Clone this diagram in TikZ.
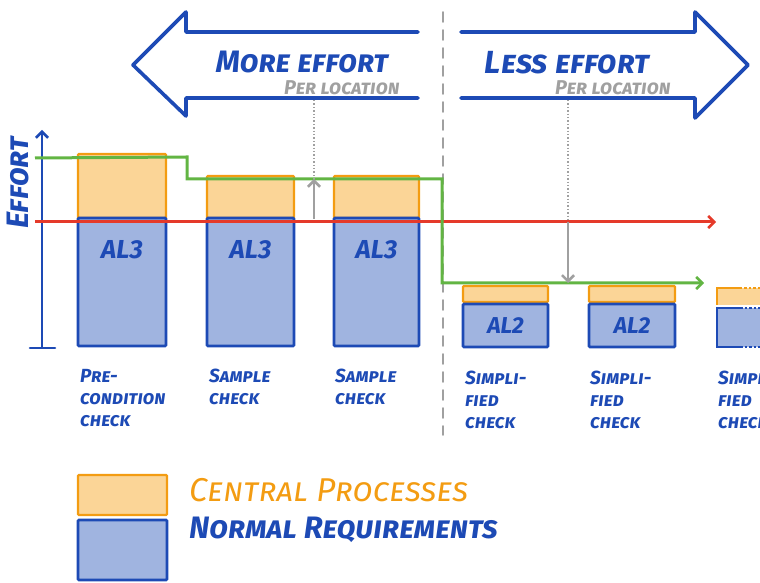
\documentclass[tikz,border=0pt]{standalone}
\usepackage{fontspec}
\setmainfont{Fira Sans}
\usetikzlibrary{arrows.meta,calc,positioning}

\begin{document}
\begin{tikzpicture}[x=1pt,y=1pt, every node/.style={inner sep=0pt},
  reqbox/.style={draw=bl, fill=bf, line width=2.6pt, rounded corners=1pt, anchor=center},
  cpbox/.style={draw=og, fill=of, line width=2.4pt, rounded corners=1pt, anchor=center},
  bigarrow/.style={draw=bl, line width=3.6pt, line join=round, line cap=round},
  barb/.style={-{Straight Barb[length=6pt,width=12pt,line width=2.6pt]}},
  headtext/.style={text=bl, text depth=0pt, font=\bfseries\itshape\scshape\fontsize{31}{33}\selectfont},
  pertext/.style={text=gy, text depth=0pt, font=\bfseries\itshape\scshape\fontsize{20}{22}\selectfont},
  altext/.style={text=bl, font=\bfseries\itshape\fontsize{26}{28}\selectfont},
  steplabel/.style={text=bl, anchor=north west, align=left, font=\bfseries\itshape\scshape\fontsize{19}{22}\selectfont}]
\definecolor{bl}{HTML}{1D4AB5}\definecolor{bf}{HTML}{A0B4E0}
\definecolor{og}{HTML}{F39C12}\definecolor{of}{HTML}{FBD597}
\definecolor{gn}{HTML}{62B543}\definecolor{rd}{HTML}{E53A2A}
\definecolor{gy}{HTML}{A0A0A0}
\useasboundingbox (0,0) rectangle (760,583);
\clip (0,0) rectangle (760,583);
% big direction arrows
\draw[bigarrow] (418,551) -- (186,551) -- (186,571) -- (133,518) -- (186,467) -- (186,485) -- (418,485);
\draw[bigarrow] (461,551) -- (695,551) -- (695,571) -- (748,518) -- (695,465) -- (695,485) -- (461,485);
\draw[draw=gy, line width=1.6pt, dash pattern=on 10pt off 8pt, line cap=round] (443,571) -- (443,148);
\node[headtext] (more) at (302,521) {More effort};
\node[pertext] (perloc1) at (342,495) {Per location};
\node[headtext, font=\bfseries\itshape\scshape\fontsize{32}{34}\selectfont] (less) at (567,521) {Less effort};
\node[pertext] (perloc2) at (613,495) {Per location};
% axis
\coordinate (ax0) at (42,235);
\coordinate (ax1) at (42,453);
\draw[draw=bl, line width=2.6pt, line cap=round] (30,235) -- (55,235);
\draw[draw=bl, line width=2.6pt, barb] (ax0) -- (ax1);
\node[text=bl, rotate=90, font=\bfseries\itshape\scshape\fontsize{31}{33}\selectfont] (eff) at (18,400) {Effort};
% bars
\node[cpbox, minimum width=88pt, minimum height=64pt] (cp1) at (122,397) {};
\node[cpbox, minimum width=87pt, minimum height=42pt] (cp2) at (250.5,386) {};
\node[cpbox, minimum width=85pt, minimum height=42pt] (cp3) at (376.5,386) {};
\node[cpbox, minimum width=85pt, minimum height=16pt] (cp4) at (505.5,289) {};
\node[cpbox, minimum width=86pt, minimum height=16pt] (cp5) at (632,289) {};
\node[reqbox, minimum width=88pt, minimum height=128pt] (al1) at (122,301) {};
\node[reqbox, minimum width=87pt, minimum height=128pt] (al2) at (250.5,301) {};
\node[reqbox, minimum width=85pt, minimum height=128pt] (al3) at (376.5,301) {};
\node[altext, below=24pt of al1.north] (al1txt) {AL3};
\node[altext, below=24pt of al2.north] (al2txt) {AL3};
\node[altext, below=24pt of al3.north] (al3txt) {AL3};
\node[reqbox, minimum width=85pt, minimum height=43pt, altext, font=\bfseries\itshape\fontsize{23}{25}\selectfont] (al4) at (505.5,257.5) {AL2};
\node[reqbox, minimum width=86pt, minimum height=43pt, altext, font=\bfseries\itshape\fontsize{23}{25}\selectfont] (al5) at (632,257.5) {AL2};
% cut-off bar at the right edge
\fill[of] (717,278) rectangle (765,295);
\draw[draw=og, line width=2.4pt] (717,278) -- (717,295) -- (740,295);
\draw[draw=og, line width=2.4pt, dotted] (740,295) -- (762,295);
\fill[bf] (717,236) rectangle (765,275);
\draw[draw=bl, line width=2.6pt] (740,275) -- (717,275) -- (717,236) -- (740,236);
\draw[draw=bl, line width=2.6pt, dotted] (740,275) -- (762,275);
\draw[draw=bl, line width=2.6pt, dotted] (740,236) -- (762,236);
% effort lines
\coordinate (r0) at (35,361);
\coordinate (r1) at (716,361);
\draw[draw=rd, line width=3pt, barb] (r0) -- (r1);
\coordinate (g0) at (35,425);
\coordinate (g1) at (187,426);
\coordinate (g2) at (442,404);
\coordinate (g3) at (704,300);
\draw[draw=gn, line width=3pt, barb] (g0) -- (g1) |- (g2) |- (g3);
\coordinate (up0) at (314,364);
\coordinate (up1) at (314,404);
\coordinate (dt0) at (314,483);
\draw[draw=gy, line width=1.4pt, dotted] (dt0) -- (up1);
\draw[draw=gy, line width=2.6pt, barb] (up0) -- (up1);
\coordinate (dn0) at (568,361);
\coordinate (dn1) at (568,300);
\coordinate (dt1) at (568,483);
\draw[draw=gy, line width=1.4pt, dotted] (dt1) -- (dn0);
\draw[draw=gy, line width=2.6pt, barb] (dn0) -- (dn1);
% step labels
\node[steplabel] (lab1) at (80,214) {Pre-\\condition\\check};
\node[steplabel] (lab2) at (209,214) {Sample\\check};
\node[steplabel] (lab3) at (335,214) {Sample\\check};
\node[steplabel] (lab4) at (465,212) {Simpli-\\fied\\check};
\node[steplabel] (lab5) at (590,212) {Simpli-\\fied\\check};
\node[steplabel] (lab6) at (718,212) {Simpli-\\fied\\check};
% legend
\node[cpbox, minimum width=89pt, minimum height=40pt] (legcp) at (122.5,88) {};
\node[reqbox, minimum width=89pt, minimum height=60pt] (legreq) at (122.5,33) {};
\node[text=og, anchor=west, font=\itshape\scshape\fontsize{33}{35}\selectfont] (legcptxt) at (189,93) {Central Processes};
\node[text=bl, anchor=west, font=\bfseries\itshape\scshape\fontsize{31}{33}\selectfont] (legreqtxt) at (189,53) {Normal Requirements};
\end{tikzpicture}
\end{document}
